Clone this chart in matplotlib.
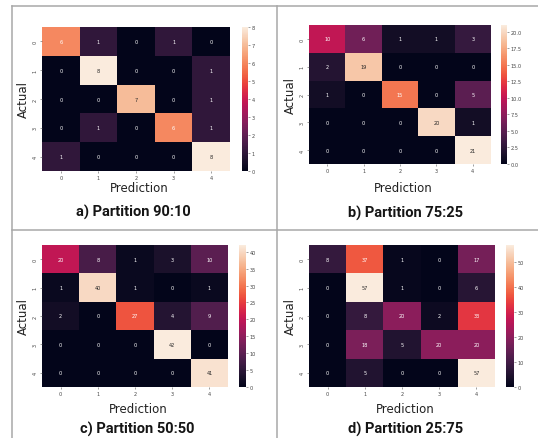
import numpy as np
import matplotlib
matplotlib.use("Agg")
import matplotlib.pyplot as plt
import seaborn as sns
from matplotlib.lines import Line2D

# === confusion matrices (rows = actual, cols = prediction) ===
classes = ["0", "1", "2", "3", "4"]

cm_90_10 = [[6, 1, 0, 1, 0],
            [0, 8, 0, 0, 1],
            [0, 0, 7, 0, 1],
            [0, 1, 0, 6, 1],
            [1, 0, 0, 0, 8]]

cm_75_25 = [[10, 6, 1, 1, 3],
            [2, 19, 0, 0, 0],
            [1, 0, 15, 0, 5],
            [0, 0, 0, 20, 1],
            [0, 0, 0, 0, 21]]

cm_50_50 = [[20, 8, 1, 3, 10],
            [1, 40, 1, 0, 1],
            [2, 0, 27, 4, 9],
            [0, 0, 0, 42, 0],
            [0, 0, 0, 0, 41]]

cm_25_75 = [[8, 37, 1, 0, 17],
            [0, 57, 1, 0, 6],
            [0, 8, 20, 2, 33],
            [0, 18, 5, 20, 20],
            [0, 5, 0, 0, 57]]

titles = ["a) Partition 90:10", "b) Partition 75:25",
          "c) Partition 50:50", "d) Partition 25:75"]

W, H = 538, 439
fig = plt.figure(figsize=(W / 100, H / 100), dpi=100)


def box(x0, y0, x1, y1):
    # pixel box (top-left origin) -> figure fraction rect
    return [x0 / W, 1 - y1 / H, (x1 - x0) / W, (y1 - y0) / H]


def fx(x):
    return x / W


def fy(y):
    return 1 - y / H


# heatmap box, colorbar box, x of "Actual", y of "Prediction", y of title, x of title
panels = [
    (cm_90_10, (42, 28, 230, 172), (242, 28, 248, 172), 23, 189, 212, 133),
    (cm_75_25, (309, 26, 491, 165), (501, 26, 507, 165), 290, 189, 213, 405),
    (cm_50_50, (42, 246, 228, 388), (239, 246, 246, 388), 23, 410, 429, 137),
    (cm_25_75, (309, 246, 495, 388), (506, 246, 514, 388), 290, 410, 429, 406),
]

for (cm, hb, cb, ax_x, pred_y, tit_y, tit_x), title in zip(panels, titles):
    ax = fig.add_axes(box(*hb))
    cax = fig.add_axes(box(*cb))
    sns.heatmap(np.array(cm), annot=True, fmt="d", ax=ax, cbar_ax=cax,
                xticklabels=classes, yticklabels=classes,
                annot_kws={"fontsize": 3.6})
    ax.tick_params(labelsize=3.6, length=1.5, width=0.4, color="#555555",
                   labelcolor="#444444", pad=1.5)
    for lab in ax.get_yticklabels():
        lab.set_rotation(90)
        lab.set_va("center")
    cax.tick_params(labelsize=3.6, length=1.5, width=0.4, color="#555555",
                    labelcolor="#444444", pad=1)
    cx = (hb[0] + hb[2]) / 2
    cy = (hb[1] + hb[3]) / 2
    fig.text(fx(ax_x), fy(cy), "Actual", rotation=90, ha="center", va="center",
             fontsize=8.5, color="#222222")
    fig.text(fx(cx + 3), fy(pred_y), "Prediction", ha="center", va="center",
             fontsize=8.5, color="#222222")
    fig.text(fx(tit_x), fy(tit_y), title, ha="center", va="center",
             fontsize=10.5, fontfamily="Roboto", fontweight="bold",
             color="#151515")

# frame lines between the panels
line_kw = dict(color="#a8a8a8", lw=1.1, transform=fig.transFigure)
fig.add_artist(Line2D([fx(12), fx(W)], [fy(7), fy(7)], **line_kw))
fig.add_artist(Line2D([fx(12), fx(12)], [fy(7), fy(H)], **line_kw))
fig.add_artist(Line2D([fx(277), fx(277)], [fy(7), fy(H)], **line_kw))
fig.add_artist(Line2D([fx(12), fx(W)], [fy(231), fy(231)], **line_kw))

fig.savefig("out.png", dpi=100)
